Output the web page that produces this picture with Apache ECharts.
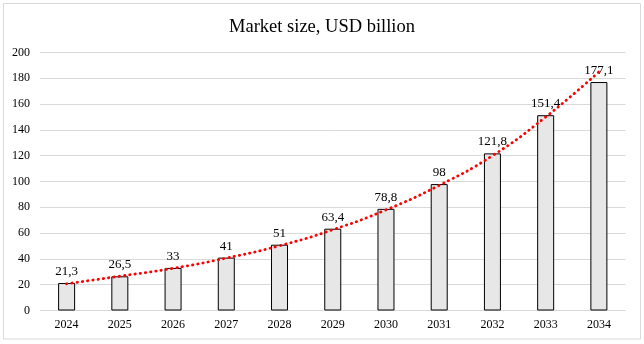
<!DOCTYPE html>
<html>
<head>
<meta charset="utf-8">
<script src="https://cdn.jsdelivr.net/npm/echarts@6/dist/echarts.min.js"></script>
<style>
  html, body { margin: 0; padding: 0; background: #fff; }
  #chart { width: 644px; height: 344px; }
</style>
</head>
<body>
<div id="chart"></div>
<script>
// Market size by year, USD billion
const years = ['2024', '2025', '2026', '2027', '2028', '2029', '2030', '2031', '2032', '2033', '2034'];
const marketSize = [21.3, 26.5, 33, 41, 51, 63.4, 78.8, 98, 121.8, 151.4, 177.1];
// Exponential trend line values at each year
const trendValues = [20.7, 26.6, 32.7, 40.6, 50.2, 62.6, 78, 97, 120, 150, 185];
const yTicks = { min: 0, max: 200, step: 20 };

const serif = '"Liberation Serif", "Times New Roman", serif';
const fmt = v => String(v).replace('.', ',');

const chart = echarts.init(document.getElementById('chart'), null, { renderer: 'canvas' });
chart.setOption({
  animation: false,
  backgroundColor: '#ffffff',
  textStyle: { fontFamily: serif },
  title: {
    text: 'Market size, USD billion',
    left: 'center',
    top: 13,
    textStyle: { fontFamily: serif, fontSize: 18.5, fontWeight: 'normal', color: '#000' }
  },
  graphic: [{
    type: 'rect',
    shape: { x: 3.5, y: 3.5, width: 637, height: 335.5 },
    style: { fill: 'none', stroke: '#d9d9d9', lineWidth: 1 },
    silent: true,
    z: -1
  }],
  grid: { left: 40, right: 18.5, top: 52.5, bottom: 33.5 },
  xAxis: {
    type: 'category',
    data: years,
    boundaryGap: true,
    axisLine: { show: false },
    axisTick: { show: false },
    axisLabel: { fontFamily: serif, fontSize: 12, color: '#000', margin: 8 }
  },
  yAxis: {
    type: 'value',
    min: yTicks.min,
    max: yTicks.max,
    interval: yTicks.step,
    axisLine: { show: false },
    axisTick: { show: false },
    axisLabel: { fontFamily: serif, fontSize: 12, color: '#000', margin: 10 },
    splitLine: { lineStyle: { color: '#d9d9d9', width: 1 } }
  },
  series: [
    {
      type: 'bar',
      data: marketSize,
      barWidth: 17,
      z: 2,
      itemStyle: { color: '#e7e7e7', borderColor: '#000', borderWidth: 1 },
      label: {
        show: true,
        position: 'top',
        distance: 5,
        fontFamily: serif,
        fontSize: 13,
        color: '#000',
        formatter: p => fmt(p.value)
      }
    },
    {
      type: 'line',
      data: trendValues,
      smooth: true,
      symbol: 'none',
      z: 3,
      lineStyle: { color: '#ff0000', width: 2.8, type: [0.4, 4.9], cap: 'round' }
    }
  ]
});
</script>
</body>
</html>
